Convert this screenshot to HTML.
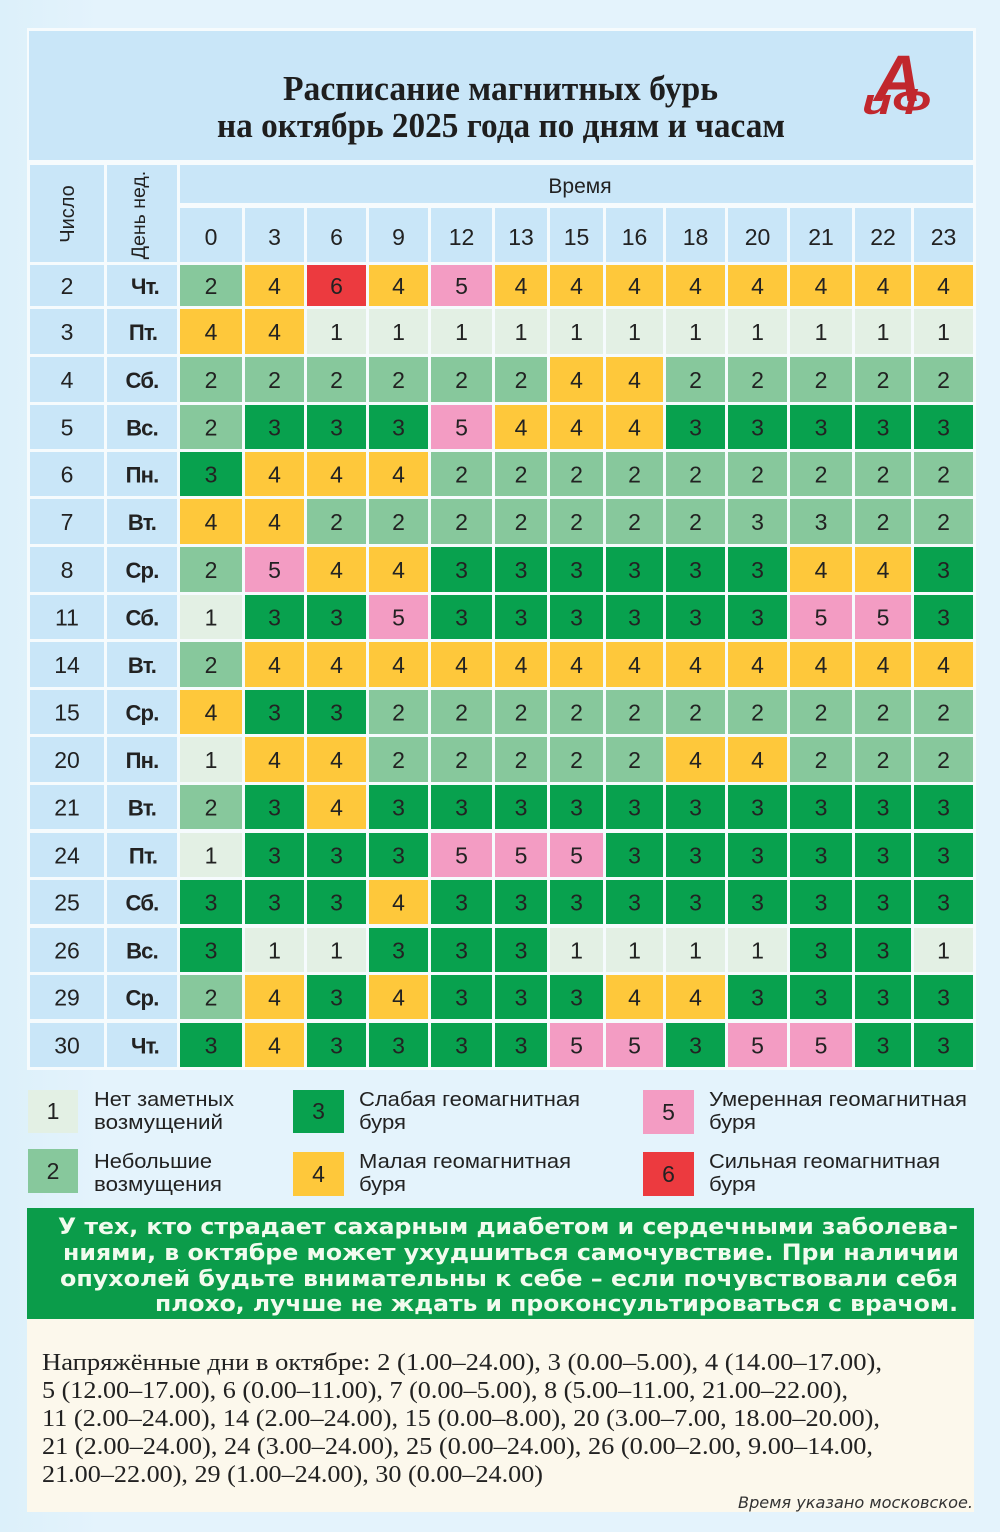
<!DOCTYPE html>
<html><head><meta charset="utf-8"><style>
html,body{margin:0;padding:0;background:#e2f2fb;}
svg{display:block}
.a{fill:#e3f0e4}.b{fill:#87c89c}.c{fill:#08a14e}.d{fill:#fec83b}.e{fill:#f39cc3}.f{fill:#ec3a3f}.h{fill:#c9e6f8}
.n{font-family:"Liberation Sans",sans-serif;font-size:23px;fill:#222;text-anchor:middle}
.dn{font-family:"Liberation Sans",sans-serif;font-size:22px;font-weight:bold;fill:#222;text-anchor:middle;letter-spacing:-0.8px}
.lg{font-family:"Liberation Sans",sans-serif;font-size:20.5px;fill:#222}
.gb{font-family:"DejaVu Sans",sans-serif;font-size:22px;font-weight:bold;fill:#f2fbee}
.sr{font-family:"Liberation Serif",serif;font-size:24.5px;fill:#222}
</style></head><body>
<svg width="1000" height="1532" viewBox="0 0 1000 1532" xmlns="http://www.w3.org/2000/svg">
<defs><linearGradient id="bg" x1="0" y1="0" x2="1" y2="0"><stop offset="0" stop-color="#dcf0fa"/><stop offset="0.1" stop-color="#e4f3fc"/><stop offset="1" stop-color="#e4f3fc"/></linearGradient></defs>
<rect width="1000" height="1532" fill="url(#bg)"/>
<rect x="27" y="28" width="949" height="1042" fill="#f6fbfd"/>
<!-- title -->
<rect class="h" x="29" y="31" width="944" height="129"/>
<text x="283" y="100" textLength="435" lengthAdjust="spacingAndGlyphs" style="font-family:'Liberation Serif',serif;font-weight:bold;font-size:35px;fill:#1e1e1e">Расписание магнитных бурь</text>
<text x="217" y="137" textLength="568" lengthAdjust="spacingAndGlyphs" style="font-family:'Liberation Serif',serif;font-weight:bold;font-size:35px;fill:#1e1e1e">на октябрь 2025 года по дням и часам</text>
<text x="874" y="101" style="font-family:'Liberation Sans',sans-serif;font-weight:bold;font-style:italic;font-size:66px;fill:#c1272d">А</text>
<text x="862" y="114" textLength="68" lengthAdjust="spacingAndGlyphs" style="font-family:'Liberation Sans',sans-serif;font-weight:bold;font-style:italic;font-size:36px;fill:#c1272d">иФ</text>
<!-- header -->
<rect class="h" x="30" y="165" width="74" height="97"/>
<rect class="h" x="107" y="165" width="70" height="97"/>
<text transform="translate(74,214) rotate(-90)" style="font-family:'Liberation Sans',sans-serif;font-size:20px;fill:#222;text-anchor:middle">Число</text>
<text transform="translate(145,215) rotate(-90)" style="font-family:'Liberation Sans',sans-serif;font-size:19.5px;fill:#222;text-anchor:middle">День нед.</text>
<rect class="h" x="180" y="165" width="793" height="38"/>
<text x="580" y="193" style="font-family:'Liberation Sans',sans-serif;font-size:21px;fill:#222;text-anchor:middle">Время</text>
<g transform="translate(0,208)">
<rect class="h" x="180" width="62" height="54"/><rect class="h" x="245" width="59" height="54"/><rect class="h" x="307" width="59" height="54"/><rect class="h" x="369" width="59" height="54"/><rect class="h" x="431" width="61" height="54"/><rect class="h" x="495" width="52" height="54"/><rect class="h" x="550" width="53" height="54"/><rect class="h" x="606" width="57" height="54"/><rect class="h" x="666" width="59" height="54"/><rect class="h" x="728" width="59" height="54"/><rect class="h" x="790" width="62" height="54"/><rect class="h" x="855" width="56" height="54"/><rect class="h" x="914" width="59" height="54"/>
<text class="n" x="211" y="37">0</text><text class="n" x="274.5" y="37">3</text><text class="n" x="336.5" y="37">6</text><text class="n" x="398.5" y="37">9</text><text class="n" x="461.5" y="37">12</text><text class="n" x="521" y="37">13</text><text class="n" x="576.5" y="37">15</text><text class="n" x="634.5" y="37">16</text><text class="n" x="695.5" y="37">18</text><text class="n" x="757.5" y="37">20</text><text class="n" x="821" y="37">21</text><text class="n" x="883" y="37">22</text><text class="n" x="943.5" y="37">23</text>
</g>

<!-- Row 2 -->
<g transform="translate(0,265)">
<rect class="h" x="30" width="74" height="41"/><rect class="h" x="107" width="70" height="41"/>
<rect class="b" x="180" width="62" height="41"/><rect class="d" x="245" width="59" height="41"/><rect class="f" x="307" width="59" height="41"/><rect class="d" x="369" width="59" height="41"/><rect class="e" x="431" width="61" height="41"/><rect class="d" x="495" width="52" height="41"/><rect class="d" x="550" width="53" height="41"/><rect class="d" x="606" width="57" height="41"/><rect class="d" x="666" width="59" height="41"/><rect class="d" x="728" width="59" height="41"/><rect class="d" x="790" width="62" height="41"/><rect class="d" x="855" width="56" height="41"/><rect class="d" x="914" width="59" height="41"/>
<text class="n" x="67" y="29">2</text><text class="dn" x="145" y="29">Чт.</text>
<text class="n" x="211" y="29">2</text><text class="n" x="274.5" y="29">4</text><text class="n" x="336.5" y="29">6</text><text class="n" x="398.5" y="29">4</text><text class="n" x="461.5" y="29">5</text><text class="n" x="521" y="29">4</text><text class="n" x="576.5" y="29">4</text><text class="n" x="634.5" y="29">4</text><text class="n" x="695.5" y="29">4</text><text class="n" x="757.5" y="29">4</text><text class="n" x="821" y="29">4</text><text class="n" x="883" y="29">4</text><text class="n" x="943.5" y="29">4</text>
</g>
<!-- Row 3 -->
<g transform="translate(0,309)">
<rect class="h" x="30" width="74" height="45"/><rect class="h" x="107" width="70" height="45"/>
<rect class="d" x="180" width="62" height="45"/><rect class="d" x="245" width="59" height="45"/><rect class="a" x="307" width="59" height="45"/><rect class="a" x="369" width="59" height="45"/><rect class="a" x="431" width="61" height="45"/><rect class="a" x="495" width="52" height="45"/><rect class="a" x="550" width="53" height="45"/><rect class="a" x="606" width="57" height="45"/><rect class="a" x="666" width="59" height="45"/><rect class="a" x="728" width="59" height="45"/><rect class="a" x="790" width="62" height="45"/><rect class="a" x="855" width="56" height="45"/><rect class="a" x="914" width="59" height="45"/>
<text class="n" x="67" y="31">3</text><text class="dn" x="143" y="31">Пт.</text>
<text class="n" x="211" y="31">4</text><text class="n" x="274.5" y="31">4</text><text class="n" x="336.5" y="31">1</text><text class="n" x="398.5" y="31">1</text><text class="n" x="461.5" y="31">1</text><text class="n" x="521" y="31">1</text><text class="n" x="576.5" y="31">1</text><text class="n" x="634.5" y="31">1</text><text class="n" x="695.5" y="31">1</text><text class="n" x="757.5" y="31">1</text><text class="n" x="821" y="31">1</text><text class="n" x="883" y="31">1</text><text class="n" x="943.5" y="31">1</text>
</g>
<!-- Row 4 -->
<g transform="translate(0,357)">
<rect class="h" x="30" width="74" height="45"/><rect class="h" x="107" width="70" height="45"/>
<rect class="b" x="180" width="62" height="45"/><rect class="b" x="245" width="59" height="45"/><rect class="b" x="307" width="59" height="45"/><rect class="b" x="369" width="59" height="45"/><rect class="b" x="431" width="61" height="45"/><rect class="b" x="495" width="52" height="45"/><rect class="d" x="550" width="53" height="45"/><rect class="d" x="606" width="57" height="45"/><rect class="b" x="666" width="59" height="45"/><rect class="b" x="728" width="59" height="45"/><rect class="b" x="790" width="62" height="45"/><rect class="b" x="855" width="56" height="45"/><rect class="b" x="914" width="59" height="45"/>
<text class="n" x="67" y="31">4</text><text class="dn" x="142" y="31">Сб.</text>
<text class="n" x="211" y="31">2</text><text class="n" x="274.5" y="31">2</text><text class="n" x="336.5" y="31">2</text><text class="n" x="398.5" y="31">2</text><text class="n" x="461.5" y="31">2</text><text class="n" x="521" y="31">2</text><text class="n" x="576.5" y="31">4</text><text class="n" x="634.5" y="31">4</text><text class="n" x="695.5" y="31">2</text><text class="n" x="757.5" y="31">2</text><text class="n" x="821" y="31">2</text><text class="n" x="883" y="31">2</text><text class="n" x="943.5" y="31">2</text>
</g>
<!-- Row 5 -->
<g transform="translate(0,405)">
<rect class="h" x="30" width="74" height="44"/><rect class="h" x="107" width="70" height="44"/>
<rect class="b" x="180" width="62" height="44"/><rect class="c" x="245" width="59" height="44"/><rect class="c" x="307" width="59" height="44"/><rect class="c" x="369" width="59" height="44"/><rect class="e" x="431" width="61" height="44"/><rect class="d" x="495" width="52" height="44"/><rect class="d" x="550" width="53" height="44"/><rect class="d" x="606" width="57" height="44"/><rect class="c" x="666" width="59" height="44"/><rect class="c" x="728" width="59" height="44"/><rect class="c" x="790" width="62" height="44"/><rect class="c" x="855" width="56" height="44"/><rect class="c" x="914" width="59" height="44"/>
<text class="n" x="67" y="30.5">5</text><text class="dn" x="142" y="30.5">Вс.</text>
<text class="n" x="211" y="30.5">2</text><text class="n" x="274.5" y="30.5">3</text><text class="n" x="336.5" y="30.5">3</text><text class="n" x="398.5" y="30.5">3</text><text class="n" x="461.5" y="30.5">5</text><text class="n" x="521" y="30.5">4</text><text class="n" x="576.5" y="30.5">4</text><text class="n" x="634.5" y="30.5">4</text><text class="n" x="695.5" y="30.5">3</text><text class="n" x="757.5" y="30.5">3</text><text class="n" x="821" y="30.5">3</text><text class="n" x="883" y="30.5">3</text><text class="n" x="943.5" y="30.5">3</text>
</g>
<!-- Row 6 -->
<g transform="translate(0,452)">
<rect class="h" x="30" width="74" height="44"/><rect class="h" x="107" width="70" height="44"/>
<rect class="c" x="180" width="62" height="44"/><rect class="d" x="245" width="59" height="44"/><rect class="d" x="307" width="59" height="44"/><rect class="d" x="369" width="59" height="44"/><rect class="b" x="431" width="61" height="44"/><rect class="b" x="495" width="52" height="44"/><rect class="b" x="550" width="53" height="44"/><rect class="b" x="606" width="57" height="44"/><rect class="b" x="666" width="59" height="44"/><rect class="b" x="728" width="59" height="44"/><rect class="b" x="790" width="62" height="44"/><rect class="b" x="855" width="56" height="44"/><rect class="b" x="914" width="59" height="44"/>
<text class="n" x="67" y="30.5">6</text><text class="dn" x="142" y="30.5">Пн.</text>
<text class="n" x="211" y="30.5">3</text><text class="n" x="274.5" y="30.5">4</text><text class="n" x="336.5" y="30.5">4</text><text class="n" x="398.5" y="30.5">4</text><text class="n" x="461.5" y="30.5">2</text><text class="n" x="521" y="30.5">2</text><text class="n" x="576.5" y="30.5">2</text><text class="n" x="634.5" y="30.5">2</text><text class="n" x="695.5" y="30.5">2</text><text class="n" x="757.5" y="30.5">2</text><text class="n" x="821" y="30.5">2</text><text class="n" x="883" y="30.5">2</text><text class="n" x="943.5" y="30.5">2</text>
</g>
<!-- Row 7 -->
<g transform="translate(0,499)">
<rect class="h" x="30" width="74" height="45"/><rect class="h" x="107" width="70" height="45"/>
<rect class="d" x="180" width="62" height="45"/><rect class="d" x="245" width="59" height="45"/><rect class="b" x="307" width="59" height="45"/><rect class="b" x="369" width="59" height="45"/><rect class="b" x="431" width="61" height="45"/><rect class="b" x="495" width="52" height="45"/><rect class="b" x="550" width="53" height="45"/><rect class="b" x="606" width="57" height="45"/><rect class="b" x="666" width="59" height="45"/><rect class="b" x="728" width="59" height="45"/><rect class="b" x="790" width="62" height="45"/><rect class="b" x="855" width="56" height="45"/><rect class="b" x="914" width="59" height="45"/>
<text class="n" x="67" y="31">7</text><text class="dn" x="142" y="31">Вт.</text>
<text class="n" x="211" y="31">4</text><text class="n" x="274.5" y="31">4</text><text class="n" x="336.5" y="31">2</text><text class="n" x="398.5" y="31">2</text><text class="n" x="461.5" y="31">2</text><text class="n" x="521" y="31">2</text><text class="n" x="576.5" y="31">2</text><text class="n" x="634.5" y="31">2</text><text class="n" x="695.5" y="31">2</text><text class="n" x="757.5" y="31">3</text><text class="n" x="821" y="31">3</text><text class="n" x="883" y="31">2</text><text class="n" x="943.5" y="31">2</text>
</g>
<!-- Row 8 -->
<g transform="translate(0,547)">
<rect class="h" x="30" width="74" height="45"/><rect class="h" x="107" width="70" height="45"/>
<rect class="b" x="180" width="62" height="45"/><rect class="e" x="245" width="59" height="45"/><rect class="d" x="307" width="59" height="45"/><rect class="d" x="369" width="59" height="45"/><rect class="c" x="431" width="61" height="45"/><rect class="c" x="495" width="52" height="45"/><rect class="c" x="550" width="53" height="45"/><rect class="c" x="606" width="57" height="45"/><rect class="c" x="666" width="59" height="45"/><rect class="c" x="728" width="59" height="45"/><rect class="d" x="790" width="62" height="45"/><rect class="d" x="855" width="56" height="45"/><rect class="c" x="914" width="59" height="45"/>
<text class="n" x="67" y="31">8</text><text class="dn" x="142" y="31">Ср.</text>
<text class="n" x="211" y="31">2</text><text class="n" x="274.5" y="31">5</text><text class="n" x="336.5" y="31">4</text><text class="n" x="398.5" y="31">4</text><text class="n" x="461.5" y="31">3</text><text class="n" x="521" y="31">3</text><text class="n" x="576.5" y="31">3</text><text class="n" x="634.5" y="31">3</text><text class="n" x="695.5" y="31">3</text><text class="n" x="757.5" y="31">3</text><text class="n" x="821" y="31">4</text><text class="n" x="883" y="31">4</text><text class="n" x="943.5" y="31">3</text>
</g>
<!-- Row 11 -->
<g transform="translate(0,595)">
<rect class="h" x="30" width="74" height="44"/><rect class="h" x="107" width="70" height="44"/>
<rect class="a" x="180" width="62" height="44"/><rect class="c" x="245" width="59" height="44"/><rect class="c" x="307" width="59" height="44"/><rect class="e" x="369" width="59" height="44"/><rect class="c" x="431" width="61" height="44"/><rect class="c" x="495" width="52" height="44"/><rect class="c" x="550" width="53" height="44"/><rect class="c" x="606" width="57" height="44"/><rect class="c" x="666" width="59" height="44"/><rect class="c" x="728" width="59" height="44"/><rect class="e" x="790" width="62" height="44"/><rect class="e" x="855" width="56" height="44"/><rect class="c" x="914" width="59" height="44"/>
<text class="n" x="67" y="30.5">11</text><text class="dn" x="142" y="30.5">Сб.</text>
<text class="n" x="211" y="30.5">1</text><text class="n" x="274.5" y="30.5">3</text><text class="n" x="336.5" y="30.5">3</text><text class="n" x="398.5" y="30.5">5</text><text class="n" x="461.5" y="30.5">3</text><text class="n" x="521" y="30.5">3</text><text class="n" x="576.5" y="30.5">3</text><text class="n" x="634.5" y="30.5">3</text><text class="n" x="695.5" y="30.5">3</text><text class="n" x="757.5" y="30.5">3</text><text class="n" x="821" y="30.5">5</text><text class="n" x="883" y="30.5">5</text><text class="n" x="943.5" y="30.5">3</text>
</g>
<!-- Row 14 -->
<g transform="translate(0,642)">
<rect class="h" x="30" width="74" height="45"/><rect class="h" x="107" width="70" height="45"/>
<rect class="b" x="180" width="62" height="45"/><rect class="d" x="245" width="59" height="45"/><rect class="d" x="307" width="59" height="45"/><rect class="d" x="369" width="59" height="45"/><rect class="d" x="431" width="61" height="45"/><rect class="d" x="495" width="52" height="45"/><rect class="d" x="550" width="53" height="45"/><rect class="d" x="606" width="57" height="45"/><rect class="d" x="666" width="59" height="45"/><rect class="d" x="728" width="59" height="45"/><rect class="d" x="790" width="62" height="45"/><rect class="d" x="855" width="56" height="45"/><rect class="d" x="914" width="59" height="45"/>
<text class="n" x="67" y="31">14</text><text class="dn" x="142" y="31">Вт.</text>
<text class="n" x="211" y="31">2</text><text class="n" x="274.5" y="31">4</text><text class="n" x="336.5" y="31">4</text><text class="n" x="398.5" y="31">4</text><text class="n" x="461.5" y="31">4</text><text class="n" x="521" y="31">4</text><text class="n" x="576.5" y="31">4</text><text class="n" x="634.5" y="31">4</text><text class="n" x="695.5" y="31">4</text><text class="n" x="757.5" y="31">4</text><text class="n" x="821" y="31">4</text><text class="n" x="883" y="31">4</text><text class="n" x="943.5" y="31">4</text>
</g>
<!-- Row 15 -->
<g transform="translate(0,690)">
<rect class="h" x="30" width="74" height="44"/><rect class="h" x="107" width="70" height="44"/>
<rect class="d" x="180" width="62" height="44"/><rect class="c" x="245" width="59" height="44"/><rect class="c" x="307" width="59" height="44"/><rect class="b" x="369" width="59" height="44"/><rect class="b" x="431" width="61" height="44"/><rect class="b" x="495" width="52" height="44"/><rect class="b" x="550" width="53" height="44"/><rect class="b" x="606" width="57" height="44"/><rect class="b" x="666" width="59" height="44"/><rect class="b" x="728" width="59" height="44"/><rect class="b" x="790" width="62" height="44"/><rect class="b" x="855" width="56" height="44"/><rect class="b" x="914" width="59" height="44"/>
<text class="n" x="67" y="30.5">15</text><text class="dn" x="142" y="30.5">Ср.</text>
<text class="n" x="211" y="30.5">4</text><text class="n" x="274.5" y="30.5">3</text><text class="n" x="336.5" y="30.5">3</text><text class="n" x="398.5" y="30.5">2</text><text class="n" x="461.5" y="30.5">2</text><text class="n" x="521" y="30.5">2</text><text class="n" x="576.5" y="30.5">2</text><text class="n" x="634.5" y="30.5">2</text><text class="n" x="695.5" y="30.5">2</text><text class="n" x="757.5" y="30.5">2</text><text class="n" x="821" y="30.5">2</text><text class="n" x="883" y="30.5">2</text><text class="n" x="943.5" y="30.5">2</text>
</g>
<!-- Row 20 -->
<g transform="translate(0,737)">
<rect class="h" x="30" width="74" height="45"/><rect class="h" x="107" width="70" height="45"/>
<rect class="a" x="180" width="62" height="45"/><rect class="d" x="245" width="59" height="45"/><rect class="d" x="307" width="59" height="45"/><rect class="b" x="369" width="59" height="45"/><rect class="b" x="431" width="61" height="45"/><rect class="b" x="495" width="52" height="45"/><rect class="b" x="550" width="53" height="45"/><rect class="b" x="606" width="57" height="45"/><rect class="d" x="666" width="59" height="45"/><rect class="d" x="728" width="59" height="45"/><rect class="b" x="790" width="62" height="45"/><rect class="b" x="855" width="56" height="45"/><rect class="b" x="914" width="59" height="45"/>
<text class="n" x="67" y="31">20</text><text class="dn" x="142" y="31">Пн.</text>
<text class="n" x="211" y="31">1</text><text class="n" x="274.5" y="31">4</text><text class="n" x="336.5" y="31">4</text><text class="n" x="398.5" y="31">2</text><text class="n" x="461.5" y="31">2</text><text class="n" x="521" y="31">2</text><text class="n" x="576.5" y="31">2</text><text class="n" x="634.5" y="31">2</text><text class="n" x="695.5" y="31">4</text><text class="n" x="757.5" y="31">4</text><text class="n" x="821" y="31">2</text><text class="n" x="883" y="31">2</text><text class="n" x="943.5" y="31">2</text>
</g>
<!-- Row 21 -->
<g transform="translate(0,785)">
<rect class="h" x="30" width="74" height="44"/><rect class="h" x="107" width="70" height="44"/>
<rect class="b" x="180" width="62" height="44"/><rect class="c" x="245" width="59" height="44"/><rect class="d" x="307" width="59" height="44"/><rect class="c" x="369" width="59" height="44"/><rect class="c" x="431" width="61" height="44"/><rect class="c" x="495" width="52" height="44"/><rect class="c" x="550" width="53" height="44"/><rect class="c" x="606" width="57" height="44"/><rect class="c" x="666" width="59" height="44"/><rect class="c" x="728" width="59" height="44"/><rect class="c" x="790" width="62" height="44"/><rect class="c" x="855" width="56" height="44"/><rect class="c" x="914" width="59" height="44"/>
<text class="n" x="67" y="30.5">21</text><text class="dn" x="142" y="30.5">Вт.</text>
<text class="n" x="211" y="30.5">2</text><text class="n" x="274.5" y="30.5">3</text><text class="n" x="336.5" y="30.5">4</text><text class="n" x="398.5" y="30.5">3</text><text class="n" x="461.5" y="30.5">3</text><text class="n" x="521" y="30.5">3</text><text class="n" x="576.5" y="30.5">3</text><text class="n" x="634.5" y="30.5">3</text><text class="n" x="695.5" y="30.5">3</text><text class="n" x="757.5" y="30.5">3</text><text class="n" x="821" y="30.5">3</text><text class="n" x="883" y="30.5">3</text><text class="n" x="943.5" y="30.5">3</text>
</g>
<!-- Row 24 -->
<g transform="translate(0,833)">
<rect class="h" x="30" width="74" height="44"/><rect class="h" x="107" width="70" height="44"/>
<rect class="a" x="180" width="62" height="44"/><rect class="c" x="245" width="59" height="44"/><rect class="c" x="307" width="59" height="44"/><rect class="c" x="369" width="59" height="44"/><rect class="e" x="431" width="61" height="44"/><rect class="e" x="495" width="52" height="44"/><rect class="e" x="550" width="53" height="44"/><rect class="c" x="606" width="57" height="44"/><rect class="c" x="666" width="59" height="44"/><rect class="c" x="728" width="59" height="44"/><rect class="c" x="790" width="62" height="44"/><rect class="c" x="855" width="56" height="44"/><rect class="c" x="914" width="59" height="44"/>
<text class="n" x="67" y="30.5">24</text><text class="dn" x="143" y="30.5">Пт.</text>
<text class="n" x="211" y="30.5">1</text><text class="n" x="274.5" y="30.5">3</text><text class="n" x="336.5" y="30.5">3</text><text class="n" x="398.5" y="30.5">3</text><text class="n" x="461.5" y="30.5">5</text><text class="n" x="521" y="30.5">5</text><text class="n" x="576.5" y="30.5">5</text><text class="n" x="634.5" y="30.5">3</text><text class="n" x="695.5" y="30.5">3</text><text class="n" x="757.5" y="30.5">3</text><text class="n" x="821" y="30.5">3</text><text class="n" x="883" y="30.5">3</text><text class="n" x="943.5" y="30.5">3</text>
</g>
<!-- Row 25 -->
<g transform="translate(0,880)">
<rect class="h" x="30" width="74" height="44"/><rect class="h" x="107" width="70" height="44"/>
<rect class="c" x="180" width="62" height="44"/><rect class="c" x="245" width="59" height="44"/><rect class="c" x="307" width="59" height="44"/><rect class="d" x="369" width="59" height="44"/><rect class="c" x="431" width="61" height="44"/><rect class="c" x="495" width="52" height="44"/><rect class="c" x="550" width="53" height="44"/><rect class="c" x="606" width="57" height="44"/><rect class="c" x="666" width="59" height="44"/><rect class="c" x="728" width="59" height="44"/><rect class="c" x="790" width="62" height="44"/><rect class="c" x="855" width="56" height="44"/><rect class="c" x="914" width="59" height="44"/>
<text class="n" x="67" y="30.5">25</text><text class="dn" x="142" y="30.5">Сб.</text>
<text class="n" x="211" y="30.5">3</text><text class="n" x="274.5" y="30.5">3</text><text class="n" x="336.5" y="30.5">3</text><text class="n" x="398.5" y="30.5">4</text><text class="n" x="461.5" y="30.5">3</text><text class="n" x="521" y="30.5">3</text><text class="n" x="576.5" y="30.5">3</text><text class="n" x="634.5" y="30.5">3</text><text class="n" x="695.5" y="30.5">3</text><text class="n" x="757.5" y="30.5">3</text><text class="n" x="821" y="30.5">3</text><text class="n" x="883" y="30.5">3</text><text class="n" x="943.5" y="30.5">3</text>
</g>
<!-- Row 26 -->
<g transform="translate(0,928)">
<rect class="h" x="30" width="74" height="44"/><rect class="h" x="107" width="70" height="44"/>
<rect class="c" x="180" width="62" height="44"/><rect class="a" x="245" width="59" height="44"/><rect class="a" x="307" width="59" height="44"/><rect class="c" x="369" width="59" height="44"/><rect class="c" x="431" width="61" height="44"/><rect class="c" x="495" width="52" height="44"/><rect class="a" x="550" width="53" height="44"/><rect class="a" x="606" width="57" height="44"/><rect class="a" x="666" width="59" height="44"/><rect class="a" x="728" width="59" height="44"/><rect class="c" x="790" width="62" height="44"/><rect class="c" x="855" width="56" height="44"/><rect class="a" x="914" width="59" height="44"/>
<text class="n" x="67" y="30.5">26</text><text class="dn" x="142" y="30.5">Вс.</text>
<text class="n" x="211" y="30.5">3</text><text class="n" x="274.5" y="30.5">1</text><text class="n" x="336.5" y="30.5">1</text><text class="n" x="398.5" y="30.5">3</text><text class="n" x="461.5" y="30.5">3</text><text class="n" x="521" y="30.5">3</text><text class="n" x="576.5" y="30.5">1</text><text class="n" x="634.5" y="30.5">1</text><text class="n" x="695.5" y="30.5">1</text><text class="n" x="757.5" y="30.5">1</text><text class="n" x="821" y="30.5">3</text><text class="n" x="883" y="30.5">3</text><text class="n" x="943.5" y="30.5">1</text>
</g>
<!-- Row 29 -->
<g transform="translate(0,975)">
<rect class="h" x="30" width="74" height="44"/><rect class="h" x="107" width="70" height="44"/>
<rect class="b" x="180" width="62" height="44"/><rect class="d" x="245" width="59" height="44"/><rect class="c" x="307" width="59" height="44"/><rect class="d" x="369" width="59" height="44"/><rect class="c" x="431" width="61" height="44"/><rect class="c" x="495" width="52" height="44"/><rect class="c" x="550" width="53" height="44"/><rect class="d" x="606" width="57" height="44"/><rect class="d" x="666" width="59" height="44"/><rect class="c" x="728" width="59" height="44"/><rect class="c" x="790" width="62" height="44"/><rect class="c" x="855" width="56" height="44"/><rect class="c" x="914" width="59" height="44"/>
<text class="n" x="67" y="30.5">29</text><text class="dn" x="142" y="30.5">Ср.</text>
<text class="n" x="211" y="30.5">2</text><text class="n" x="274.5" y="30.5">4</text><text class="n" x="336.5" y="30.5">3</text><text class="n" x="398.5" y="30.5">4</text><text class="n" x="461.5" y="30.5">3</text><text class="n" x="521" y="30.5">3</text><text class="n" x="576.5" y="30.5">3</text><text class="n" x="634.5" y="30.5">4</text><text class="n" x="695.5" y="30.5">4</text><text class="n" x="757.5" y="30.5">3</text><text class="n" x="821" y="30.5">3</text><text class="n" x="883" y="30.5">3</text><text class="n" x="943.5" y="30.5">3</text>
</g>
<!-- Row 30 -->
<g transform="translate(0,1023)">
<rect class="h" x="30" width="74" height="44"/><rect class="h" x="107" width="70" height="44"/>
<rect class="c" x="180" width="62" height="44"/><rect class="d" x="245" width="59" height="44"/><rect class="c" x="307" width="59" height="44"/><rect class="c" x="369" width="59" height="44"/><rect class="c" x="431" width="61" height="44"/><rect class="c" x="495" width="52" height="44"/><rect class="e" x="550" width="53" height="44"/><rect class="e" x="606" width="57" height="44"/><rect class="c" x="666" width="59" height="44"/><rect class="e" x="728" width="59" height="44"/><rect class="e" x="790" width="62" height="44"/><rect class="c" x="855" width="56" height="44"/><rect class="c" x="914" width="59" height="44"/>
<text class="n" x="67" y="30.5">30</text><text class="dn" x="145" y="30.5">Чт.</text>
<text class="n" x="211" y="30.5">3</text><text class="n" x="274.5" y="30.5">4</text><text class="n" x="336.5" y="30.5">3</text><text class="n" x="398.5" y="30.5">3</text><text class="n" x="461.5" y="30.5">3</text><text class="n" x="521" y="30.5">3</text><text class="n" x="576.5" y="30.5">5</text><text class="n" x="634.5" y="30.5">5</text><text class="n" x="695.5" y="30.5">3</text><text class="n" x="757.5" y="30.5">5</text><text class="n" x="821" y="30.5">5</text><text class="n" x="883" y="30.5">3</text><text class="n" x="943.5" y="30.5">3</text>
</g>

<!-- legend -->
<rect class="a" x="28" y="1090" width="50" height="43"/>
<text class="n" x="53" y="1119">1</text>
<rect class="b" x="28" y="1149" width="50" height="44"/>
<text class="n" x="53" y="1179">2</text>
<rect class="c" x="293" y="1090" width="51" height="43"/>
<text class="n" x="318.5" y="1119">3</text>
<rect class="d" x="293" y="1152" width="51" height="44"/>
<text class="n" x="318.5" y="1182">4</text>
<rect class="e" x="643" y="1090" width="51" height="44"/>
<text class="n" x="668.5" y="1120">5</text>
<rect class="f" x="643" y="1152" width="51" height="44"/>
<text class="n" x="668.5" y="1182">6</text>

<text class="lg" x="94" y="1106" textLength="140" lengthAdjust="spacingAndGlyphs">Нет заметных</text>
<text class="lg" x="94" y="1129" textLength="129" lengthAdjust="spacingAndGlyphs">возмущений</text>
<text class="lg" x="94" y="1168" textLength="118" lengthAdjust="spacingAndGlyphs">Небольшие</text>
<text class="lg" x="94" y="1191" textLength="128" lengthAdjust="spacingAndGlyphs">возмущения</text>
<text class="lg" x="359" y="1106" textLength="221" lengthAdjust="spacingAndGlyphs">Слабая геомагнитная</text>
<text class="lg" x="359" y="1129" textLength="47" lengthAdjust="spacingAndGlyphs">буря</text>
<text class="lg" x="359" y="1168" textLength="212" lengthAdjust="spacingAndGlyphs">Малая геомагнитная</text>
<text class="lg" x="359" y="1191" textLength="47" lengthAdjust="spacingAndGlyphs">буря</text>
<text class="lg" x="709" y="1106" textLength="258" lengthAdjust="spacingAndGlyphs">Умеренная геомагнитная</text>
<text class="lg" x="709" y="1129" textLength="47" lengthAdjust="spacingAndGlyphs">буря</text>
<text class="lg" x="709" y="1168" textLength="231" lengthAdjust="spacingAndGlyphs">Сильная геомагнитная</text>
<text class="lg" x="709" y="1191" textLength="47" lengthAdjust="spacingAndGlyphs">буря</text>

<!-- green banner -->
<rect x="27" y="1208" width="947" height="111" fill="#0b9c4a"/>
<text class="gb" x="58" y="1234" textLength="900" lengthAdjust="spacingAndGlyphs">У тех, кто страдает сахарным диабетом и сердечными заболева-</text>
<text class="gb" x="63" y="1260" textLength="896" lengthAdjust="spacingAndGlyphs">ниями, в октябре может ухудшиться самочувствие. При наличии</text>
<text class="gb" x="60" y="1286" textLength="898" lengthAdjust="spacingAndGlyphs">опухолей будьте внимательны к себе – если почувствовали себя</text>
<text class="gb" x="155" y="1311" textLength="803" lengthAdjust="spacingAndGlyphs">плохо, лучше не ждать и проконсультироваться с врачом.</text>

<!-- cream box -->
<rect x="27" y="1319" width="947" height="193" fill="#fcf8ec"/>
<text class="sr" x="42" y="1370" textLength="840" lengthAdjust="spacingAndGlyphs">Напряжённые дни в октябре: 2 (1.00–24.00), 3 (0.00–5.00), 4 (14.00–17.00),</text>
<text class="sr" x="42" y="1398" textLength="806" lengthAdjust="spacingAndGlyphs">5 (12.00–17.00), 6 (0.00–11.00), 7 (0.00–5.00), 8 (5.00–11.00, 21.00–22.00),</text>
<text class="sr" x="42" y="1426" textLength="838" lengthAdjust="spacingAndGlyphs">11 (2.00–24.00), 14 (2.00–24.00), 15 (0.00–8.00), 20 (3.00–7.00, 18.00–20.00),</text>
<text class="sr" x="42" y="1454" textLength="831" lengthAdjust="spacingAndGlyphs">21 (2.00–24.00), 24 (3.00–24.00), 25 (0.00–24.00), 26 (0.00–2.00, 9.00–14.00,</text>
<text class="sr" x="42" y="1482" textLength="501" lengthAdjust="spacingAndGlyphs">21.00–22.00), 29 (1.00–24.00), 30 (0.00–24.00)</text>
<text x="738" y="1508" textLength="235" lengthAdjust="spacingAndGlyphs" style="font-family:'DejaVu Sans',sans-serif;font-style:italic;font-size:16px;fill:#333">Время указано московское.</text>
</svg>
</body></html>
